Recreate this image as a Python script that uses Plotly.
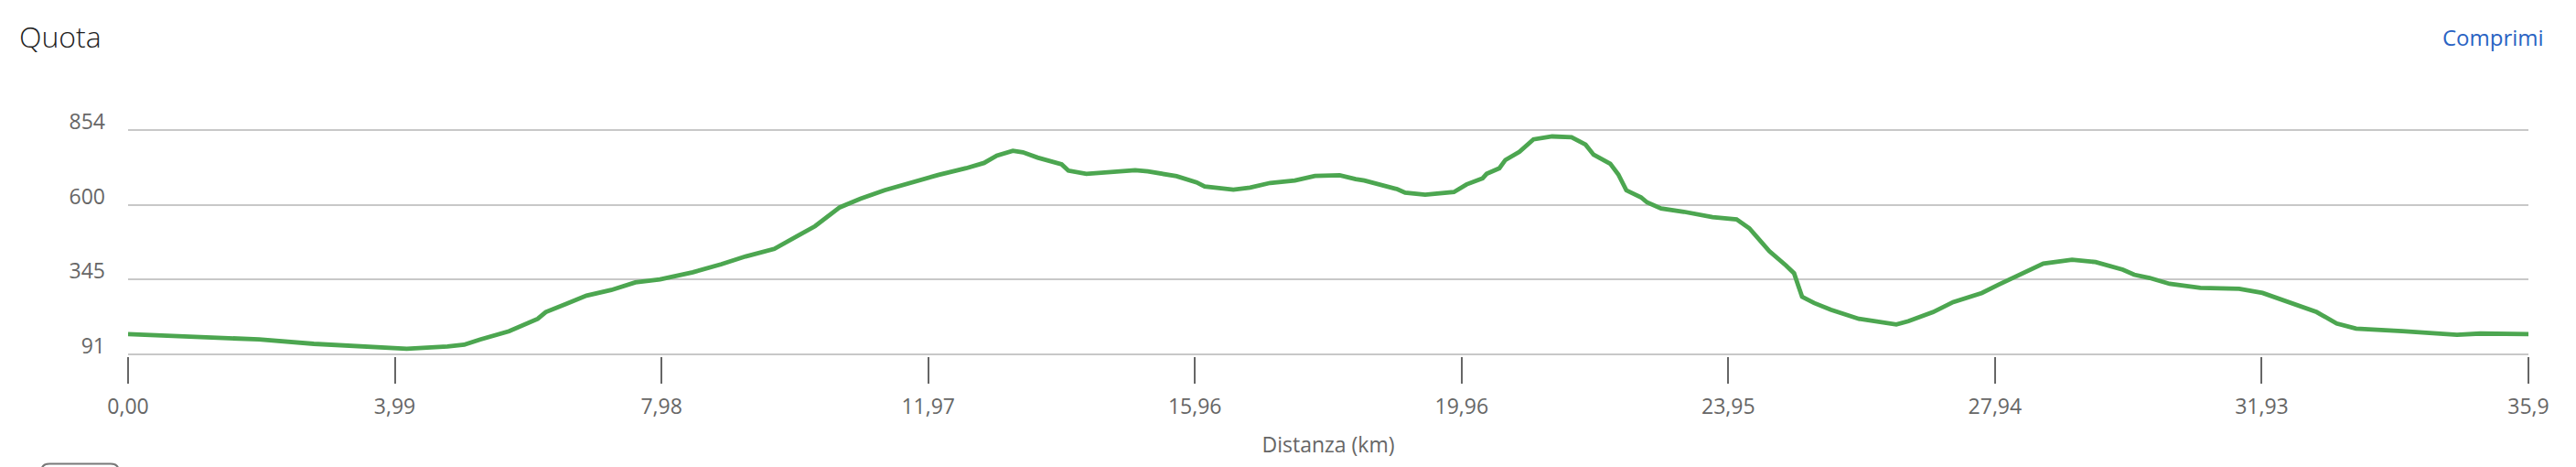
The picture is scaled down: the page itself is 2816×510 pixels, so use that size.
import plotly.graph_objects as go

# ---- data ----
distance_km = [0, 0.27, 1.27, 1.96, 2.78, 3.56, 4.17, 4.78, 5.03, 5.27, 5.70, 6.13, 6.25, 6.56, 6.86,
               7.23, 7.59, 7.96, 8.45, 8.88, 9.24, 9.67, 10.04, 10.28, 10.65, 10.96, 11.32, 11.69,
               12.12, 12.54, 12.81, 13.00, 13.24, 13.39, 13.61, 13.97, 14.07, 14.34, 14.77, 15.07,
               15.26, 15.69, 15.99, 16.11, 16.54, 16.79, 17.09, 17.46, 17.76, 18.13, 18.37, 18.50,
               18.99, 19.11, 19.41, 19.84, 20.03, 20.27, 20.33, 20.52, 20.61, 20.82, 21.03, 21.31,
               21.60, 21.81, 21.93, 22.18, 22.30, 22.42, 22.64, 22.73, 22.94, 23.28, 23.71, 24.07,
               24.26, 24.44, 24.56, 24.81, 24.93, 25.00, 25.05, 25.23, 25.48, 25.90, 26.21, 26.46,
               26.64, 27.01, 27.31, 27.74, 27.99, 28.29, 28.66, 29.09, 29.44, 29.85, 30.02, 30.25,
               30.55, 31.01, 31.59, 31.94, 32.35, 32.75, 33.05, 33.34, 34.03, 34.85, 35.20, 35.92]
elevation_m = [160, 158, 150, 142, 127, 119, 110, 118, 124, 142, 170, 212, 235, 263, 291,
               310, 336, 346, 370, 398, 424, 450, 496, 527, 591, 620, 649, 674,
               701, 724, 742, 767, 783, 778, 760, 737, 716, 705, 713, 717,
               713, 697, 676, 662, 651, 658, 674, 682, 698, 700, 687, 682,
               653, 641, 634, 643, 669, 690, 705, 724, 752, 780, 822, 832,
               829, 804, 770, 739, 703, 649, 625, 608, 587, 576, 558, 550,
               520, 476, 442, 393, 367, 320, 287, 266, 243, 212, 201, 193,
               204, 235, 269, 300, 328, 362, 400, 413, 405, 379, 362, 351,
               331, 317, 314, 300, 266, 235, 196, 179, 170, 158, 162, 160]

x_tick_step = 3.991
x_tick_labels = ["0,00", "3,99", "7,98", "11,97", "15,96", "19,96", "23,95", "27,94", "31,93", "35,9"]
y_tick_values = [91, 345.33, 599.67, 854]
y_tick_labels = ["91", "345", "600", "854"]

x_tick_values = [i * x_tick_step for i in range(len(x_tick_labels))]

FONT = "Open Sans"
GREEN = "rgb(76,166,80)"
GRID = "rgb(200,200,200)"
TICKC = "rgb(102,102,102)"

fig = go.Figure()
fig.add_trace(go.Scatter(
    x=distance_km, y=elevation_m, mode="lines",
    line=dict(color=GREEN, width=4.8), hoverinfo="skip", showlegend=False,
))

# the page body adds an 8px offset; figure coords = screen coords - 8
OFF = 8
W, H = 2816, 510
L = 140 - OFF
R = W - (2763.7 - OFF)
T = 139.77 - OFF
B = H - (389.23 - OFF)
pw = W - L - R
ph = H - T - B

def px_x(sx):
    return (sx - OFF - L) / pw

def px_y(sy):
    return (H - B - (sy - OFF)) / ph

fig.update_layout(
    width=W, height=H,
    margin=dict(l=L, r=R, t=T, b=B, pad=0, autoexpand=False),
    paper_bgcolor="white", plot_bgcolor="white",
    font=dict(family=FONT, color=TICKC, size=23),
    title=dict(text="Quota", xref="container", yref="container", x=(21 - OFF) / W,
               y=1 - (41 - OFF) / H, xanchor="left", yanchor="middle",
               font=dict(family=FONT, size=32, color="rgb(30,30,30)", weight=300)),
    xaxis=dict(
        range=[0, x_tick_values[-1]], tickvals=x_tick_values, ticktext=x_tick_labels,
        ticks="outside", ticklen=29, tickwidth=2, tickcolor=TICKC,
        showgrid=False, zeroline=False, showline=False,
        tickfont=dict(family=FONT, size=23, color=TICKC),
        ticklabelstandoff=5,
        title=dict(text="Distanza (km)", font=dict(family=FONT, size=23, color=TICKC), standoff=20),
        automargin=False, fixedrange=True,
    ),
    yaxis=dict(
        range=[85, 860], tickvals=y_tick_values, ticktext=y_tick_labels,
        ticks="", showgrid=True, gridcolor=GRID, gridwidth=2,
        zeroline=False, showline=False,
        tickfont=dict(family=FONT, size=23, color=TICKC),
        ticklabelstandoff=24, ticklabelshift=-9,
        automargin=False, fixedrange=True,
    ),
    annotations=[dict(
        text="Comprimi", xref="paper", yref="paper", x=px_x(2783), y=px_y(40),
        xanchor="right", yanchor="middle", showarrow=False,
        font=dict(family=FONT, size=24, color="rgb(42,99,195)"),
    )],
    shapes=[
        dict(type="line", xref="paper", yref="paper", x0=px_x(2815), x1=px_x(2815),
             y0=px_y(0), y1=px_y(H + 10), line=dict(color="rgb(225,225,225)", width=2), layer="below"),
        dict(type="path", xref="paper", yref="paper",
             path=(f"M {px_x(45)} {px_y(520)} L {px_x(45)} {px_y(516)} "
                   f"Q {px_x(45)} {px_y(507)} {px_x(54)} {px_y(507)} "
                   f"L {px_x(121)} {px_y(507)} Q {px_x(130)} {px_y(507)} {px_x(130)} {px_y(516)} "
                   f"L {px_x(130)} {px_y(520)}"),
             line=dict(color="rgb(120,120,120)", width=2)),
    ],
)

fig.write_html("out.html")
